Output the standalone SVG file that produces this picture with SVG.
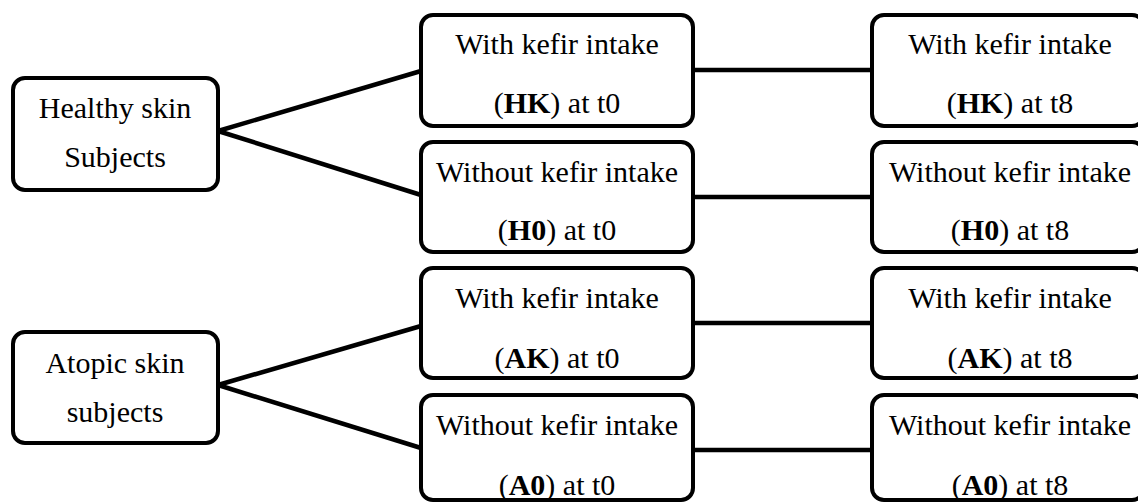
<svg xmlns="http://www.w3.org/2000/svg" width="1138" height="502" viewBox="0 0 1138 502">
<style>
.box{fill:#fff;stroke:#000;stroke-width:4}
.t{font-family:"Liberation Serif","DejaVu Serif",serif;font-size:30px;fill:#000;text-anchor:middle}
.b{font-weight:bold}
.c{stroke:#000;stroke-width:4.5;fill:none}
</style>
<rect width="1138" height="502" fill="#fff"/>
<g id="connectors">
<line class="c" x1="218" y1="131" x2="421" y2="71"/>
<line class="c" x1="218" y1="131" x2="421" y2="195"/>
<line class="c" x1="218" y1="385" x2="421" y2="326"/>
<line class="c" x1="218" y1="385" x2="421" y2="448"/>
<line class="c" x1="693" y1="70" x2="872" y2="70"/>
<line class="c" x1="693" y1="197" x2="872" y2="197"/>
<line class="c" x1="693" y1="323" x2="872" y2="323"/>
<line class="c" x1="693" y1="450" x2="872" y2="450"/>
</g>
<g id="healthy">
<rect class="box" x="13" y="78" width="205" height="112" rx="12"/>
<text class="t" x="115" y="118">Healthy skin</text>
<text class="t" x="115" y="167">Subjects</text>
</g>
<g id="atopic">
<rect class="box" x="13" y="332" width="205" height="111" rx="12"/>
<text class="t" x="115" y="373">Atopic skin</text>
<text class="t" x="115" y="422">subjects</text>
</g>
<g id="hk-t0">
<rect class="box" x="421" y="15" width="272" height="111" rx="12"/>
<text class="t" x="557" y="54">With kefir intake</text>
<text class="t" x="557" y="113">(<tspan class="b">HK</tspan>) at t0</text>
</g>
<g id="h0-t0">
<rect class="box" x="421" y="142" width="272" height="110" rx="12"/>
<text class="t" x="557" y="182">Without kefir intake</text>
<text class="t" x="557" y="240">(<tspan class="b">H0</tspan>) at t0</text>
</g>
<g id="ak-t0">
<rect class="box" x="421" y="268" width="272" height="110" rx="12"/>
<text class="t" x="557" y="308">With kefir intake</text>
<text class="t" x="557" y="368">(<tspan class="b">AK</tspan>) at t0</text>
</g>
<g id="a0-t0">
<rect class="box" x="421" y="395" width="272" height="105" rx="12"/>
<text class="t" x="557" y="435">Without kefir intake</text>
<text class="t" x="557" y="495">(<tspan class="b">A0</tspan>) at t0</text>
</g>
<g id="hk-t8">
<rect class="box" x="872" y="15" width="272" height="111" rx="12"/>
<text class="t" x="1010" y="54">With kefir intake</text>
<text class="t" x="1010" y="113">(<tspan class="b">HK</tspan>) at t8</text>
</g>
<g id="h0-t8">
<rect class="box" x="872" y="142" width="272" height="110" rx="12"/>
<text class="t" x="1010" y="182">Without kefir intake</text>
<text class="t" x="1010" y="240">(<tspan class="b">H0</tspan>) at t8</text>
</g>
<g id="ak-t8">
<rect class="box" x="872" y="268" width="272" height="110" rx="12"/>
<text class="t" x="1010" y="308">With kefir intake</text>
<text class="t" x="1010" y="368">(<tspan class="b">AK</tspan>) at t8</text>
</g>
<g id="a0-t8">
<rect class="box" x="872" y="395" width="272" height="105" rx="12"/>
<text class="t" x="1010" y="435">Without kefir intake</text>
<text class="t" x="1010" y="495">(<tspan class="b">A0</tspan>) at t8</text>
</g>
</svg>
